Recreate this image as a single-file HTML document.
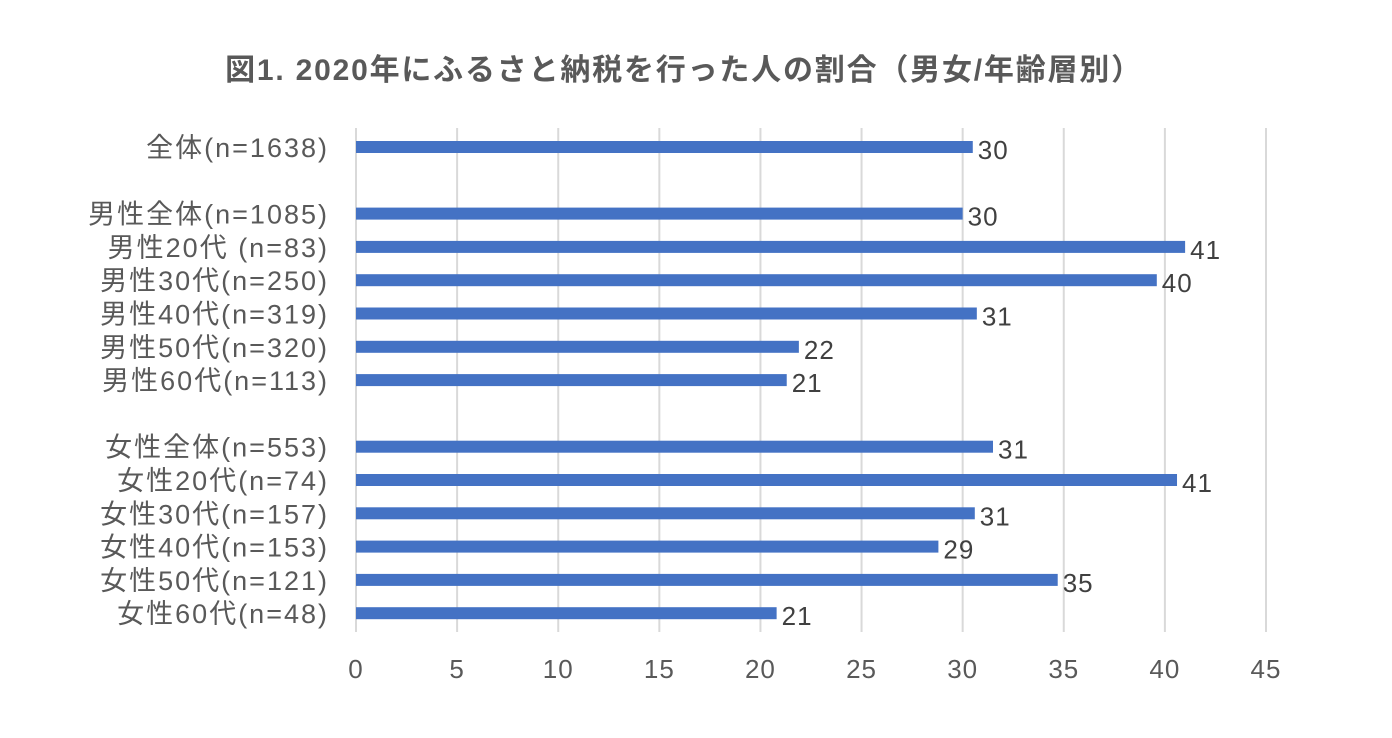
<!DOCTYPE html>
<html><head><meta charset="utf-8">
<style>
html,body{margin:0;padding:0;background:#fff;}
svg text{font-family:"Liberation Sans","Noto Sans CJK JP",sans-serif;}
</style></head>
<body>
<svg id="chart" width="1392" height="733" viewBox="0 0 1392 733" xmlns="http://www.w3.org/2000/svg">
<rect width="1392" height="733" fill="#fff"/>
<text x="684" y="80" text-anchor="middle" font-size="30" font-weight="bold" letter-spacing="1.8" fill="#595959">図1. 2020年にふるさと納税を行った人の割合（男女/年齢層別）</text>
<g id="grid"></g><g id="bars"></g><g id="labels"></g>
</svg>
<script>
const categories=["全体(n=1638)","","男性全体(n=1085)","男性20代 (n=83)","男性30代(n=250)","男性40代(n=319)","男性50代(n=320)","男性60代(n=113)","","女性全体(n=553)","女性20代(n=74)","女性30代(n=157)","女性40代(n=153)","女性50代(n=121)","女性60代(n=48)"];
const values=[30.5,null,30.0,41.0,39.6,30.7,21.9,21.3,null,31.5,40.6,30.6,28.8,34.7,20.8];
const printed=["30","","30","41","40","31","22","21","","31","41","31","29","35","21"];
const ticks=[0,5,10,15,20,25,30,35,40,45];

const ns="http://www.w3.org/2000/svg";
const x0=356,x1=1266,xmax=45;
const xs=v=>x0+(x1-x0)*v/xmax;
const y0=147,step=33.3;
const ys=i=>y0+i*step;
const grid=document.getElementById('grid'),bars=document.getElementById('bars'),labels=document.getElementById('labels');
function mk(tag,attrs,parent){const e=document.createElementNS(ns,tag);for(const k in attrs)e.setAttribute(k,attrs[k]);parent.appendChild(e);return e;}
ticks.forEach(t=>{
  const l=mk('line',{x1:xs(t),x2:xs(t),y1:128,y2:632,stroke:'#d9d9d9','stroke-width':2},grid);
  
  
  const tx=mk('text',{x:xs(t),y:678,'text-anchor':'middle','font-size':26,'letter-spacing':1,fill:'#595959'},grid);
  tx.textContent=t;
  
  
});
categories.forEach((c,i)=>{
  if(c){
    const t=mk('text',{x:329,y:ys(i)+10,'text-anchor':'end','font-size':27,'letter-spacing':2,fill:'#595959'},labels);
    t.textContent=c;
    
    
  }
  if(values[i]!=null){
    const r=mk('rect',{x:xs(0),y:ys(i)-6,width:xs(values[i])-xs(0),height:12,fill:'#4472c4'},bars);
    
    
    const v=mk('text',{x:xs(values[i])+5,y:ys(i)+12,'font-size':26,'letter-spacing':1,fill:'#404040'},labels);
    v.textContent=printed[i];
    
    
  }
});
</script>
</body></html>
